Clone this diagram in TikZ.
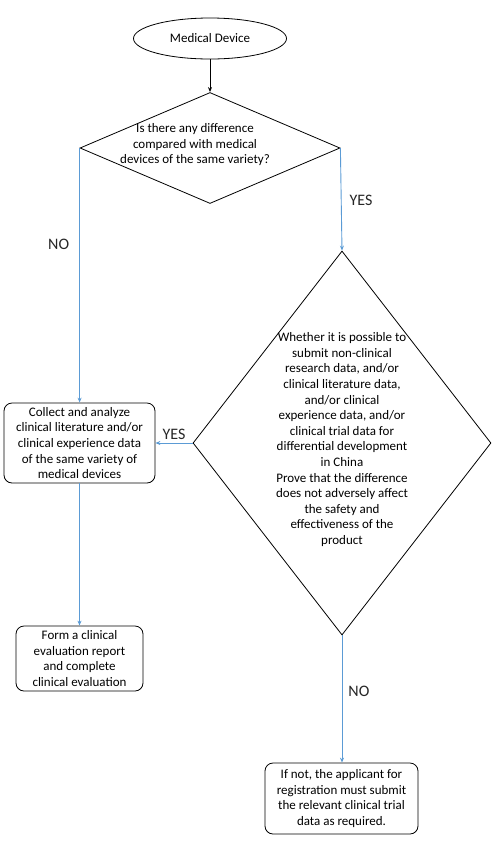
\documentclass[tikz,border=0pt]{standalone}
\usepackage{fontspec}
\setmainfont{Carlito}
\usetikzlibrary{shapes.geometric,arrows.meta}
\definecolor{linkblue}{RGB}{91,155,213}
% text that takes no room, so the diamond keeps its given size
\newcommand{\qtext}[2][0pt]{\smash{\makebox[0pt]{\hspace*{#1}\begin{tabular}{@{}c@{}}#2\end{tabular}}}}
\begin{document}
\begin{tikzpicture}[
        x=1pt, y=-1pt,
        >={Stealth[length=5pt,width=4pt]},
        font=\fontsize{13}{15.6}\selectfont,
        start/.style={ellipse, draw, line width=0.8pt, minimum width=153pt, minimum height=41pt, inner sep=0pt},
        question/.style={diamond, draw, line width=0.8pt, inner sep=0pt},
        process/.style={rectangle, rounded corners=8pt, draw, line width=0.8pt, inner sep=0pt, align=center},
        link/.style={->, linkblue, line width=0.9pt},
        answer/.style={font=\fontsize{16}{19}\selectfont, text=black!85, inner sep=0pt},
      ]
      \useasboundingbox (0,0) rectangle (497,855);

      %Nodes
      \node[start]    (device)   at (210,38.5)  {Medical Device};

      \node[question, minimum width=260pt, minimum height=111pt] (same)  at (210,148)
           {\qtext[-30pt]{Is there any difference\\compared with medical\\devices of the same variety?}};

      \node[question, minimum width=298pt, minimum height=384pt] (prove) at (342,443)
           {\qtext{Whether it is possible to\\submit non-clinical\\research data, and/or\\clinical literature data,\\and/or clinical\\experience data, and/or\\clinical trial data for\\differential development\\in China\\Prove that the difference\\does not adversely affect\\the safety and\\effectiveness of the\\product}};

      \node[process, minimum width=151pt, minimum height=80pt] (collect) at (79.5,443)
           {Collect and analyze\\clinical literature and/or\\clinical experience data\\of the same variety of\\medical devices};

      \node[process, minimum width=127pt, minimum height=65pt] (report) at (79.5,658.5)
           {Form a clinical\\evaluation report\\and complete\\clinical evaluation};

      \node[process, minimum width=153pt, minimum height=71pt] (trial) at (341.5,798.5)
           {If not, the applicant for\\registration must submit\\the relevant clinical trial\\data as required.};

      %Lines
      \draw[->, line width=0.9pt] (device) -- (same);
      \draw[link] (same.west) -- node[answer, pos=0.38, left=10pt] {NO} (collect.north -| same.west);
      \draw[link] (same.east) -- node[answer, pos=0.51, right=8pt] {YES} (prove.north);
      \draw[link] (prove.west) -- node[answer, above=3pt] {YES} (collect.east);
      \draw[link] (collect) -- (report);
      \draw[link] (prove.south) -- node[answer, pos=0.44, right=6pt] {NO} (trial.north -| prove.south);
    \end{tikzpicture}
\end{document}
